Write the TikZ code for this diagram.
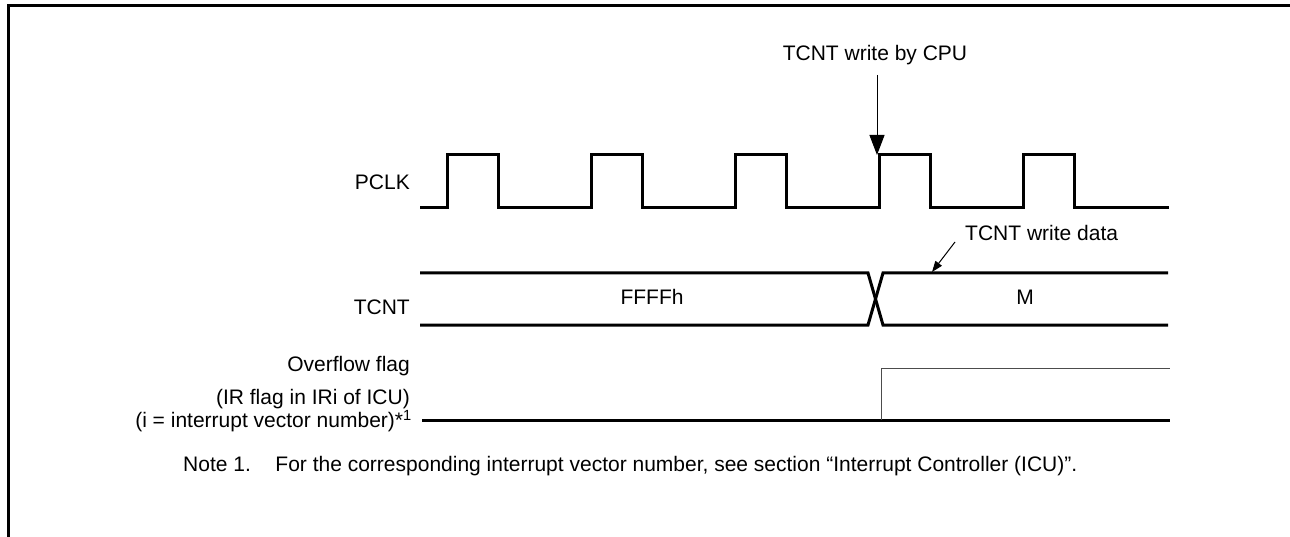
\documentclass[tikz,border=0pt]{standalone}
\usepackage{fontspec}
\setmainfont{Liberation Sans}
\usetikzlibrary{arrows.meta}
\begin{document}
\begin{tikzpicture}[x=1pt, y=-1pt,
    txt/.style={font=\fontsize{21}{24}\selectfont, inner sep=0pt},
    sig/.style={line width=3pt, line join=miter},
    thin sig/.style={line width=1pt, black!70},
    ptr/.style={line width=1pt, -{Triangle[length=20pt,width=15pt]}},
    small ptr/.style={line width=1pt, -{Triangle[length=11pt,width=8pt]}}]
\useasboundingbox (0,0) rectangle (1290,537);
\draw[line width=3pt] (8.5,537) -- (8.5,5.5) -- (1290,5.5);

% labels
\node[txt, anchor=east] (pclk) at (410,182) {PCLK};
\node[txt, anchor=east] (tcnt) at (410,307) {TCNT};
\node[txt, anchor=east] (ovf) at (410,366) {Overflow flag};
\node[txt, anchor=east] (irf) at (410,399) {(IR flag in IRi of ICU)};
\node[txt, anchor=east] (ivn) at (412,421) {(i = interrupt vector number)*\textsuperscript{1}};
\node[txt] (ffff) at (652,297) {FFFFh};
\node[txt] (mval) at (1025,297) {M};
\node[txt] (cpu) at (875,55) {TCNT write by CPU};
\node[txt, anchor=west] (wdata) at (965,233) {TCNT write data};
\node[txt, anchor=west] (note) at (183,466) {Note 1.\hspace{0.8em} For the corresponding interrupt vector number, see section “Interrupt Controller (ICU)”.};

% PCLK
\draw[sig] (420,208) \foreach \x in {447,591,735,879,1023} {
    -- (\x,208) -- (\x,155) -- (\x+51,155) -- (\x+51,208)} -- (1169,208);

% TCNT
\draw[sig] (420,273) -- (868,273) -- (883,325) -- (1168,325);
\draw[sig] (420,325) -- (868,325) -- (883,273) -- (1168,273);

% overflow flag
\draw[sig] (422,420) -- (1170,420);
\draw[thin sig] (881,420) -- (881,368) -- (1170,368);

% pointers
\coordinate (wr) at (877,155);
\coordinate (wd) at (932,272);
\draw[ptr] (cpu.south -| wr) ++(0,10) -- (wr);
\draw[small ptr] (955,242) -- (wd);
\end{tikzpicture}
\end{document}
